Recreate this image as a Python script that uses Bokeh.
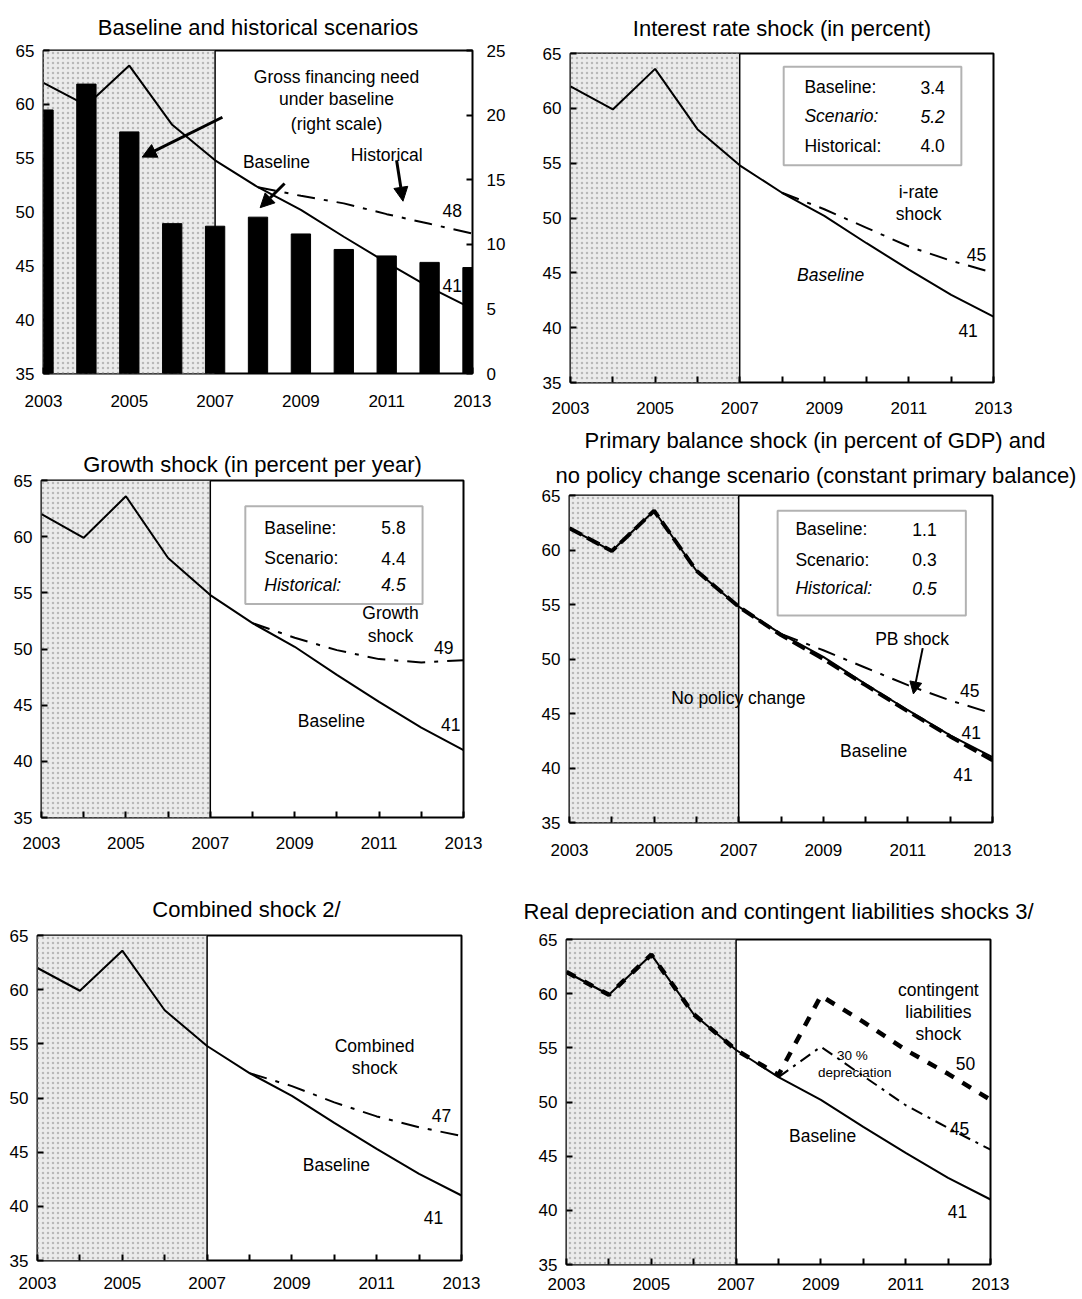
from bokeh.plotting import figure
from bokeh.models import (Range1d, LinearAxis, FixedTicker, BoxAnnotation, Label,
                          Arrow, NormalHead, Span, Title)
from bokeh.layouts import column, row
from bokeh.embed import file_html
from bokeh.resources import INLINE

# ---------------- data ----------------
years = [2003, 2004, 2005, 2006, 2007, 2008, 2009, 2010, 2011, 2012, 2013]
proj_years = [2008, 2009, 2010, 2011, 2012, 2013]
x_major_ticks = [2003, 2005, 2007, 2009, 2011, 2013]
x_minor_ticks = [2004, 2006, 2008, 2010, 2012]
y_ticks = [35, 40, 45, 50, 55, 60, 65]
right_ticks = [0, 5, 10, 15, 20, 25]

baseline = [62.0, 59.9, 63.6, 58.1, 54.8, 52.3, 50.2, 47.7, 45.3, 43.0, 41.0]
gross_financing = [20.4, 22.4, 18.7, 11.6, 11.4, 12.1, 10.8, 9.6, 9.1, 8.6, 8.2]
historical = [52.3, 51.5, 50.8, 49.8, 48.9, 48.0]
irate_shock = [52.3, 50.8, 49.1, 47.4, 46.1, 45.0]
growth_shock = [52.3, 51.0, 49.9, 49.1, 48.8, 49.0]
pb_shock = [52.3, 50.8, 49.2, 47.6, 46.2, 45.0]
no_policy_change = [62.0, 59.9, 63.6, 58.1, 54.8, 52.2, 50.0, 47.6, 45.2, 42.9, 40.7]
combined_shock = [52.3, 51.1, 49.6, 48.3, 47.3, 46.5]
contingent_shock = [62.0, 59.9, 63.6, 58.1, 54.8, 52.5, 59.8, 57.4, 54.8, 52.6, 50.2]
depreciation_shock = [52.3, 55.1, 52.4, 49.7, 47.6, 45.6]

table_labels = ["Baseline:", "Scenario:", "Historical:"]
irate_values = ["3.4", "5.2", "4.0"]
growth_values = ["5.8", "4.4", "4.5"]
pb_values = ["1.1", "0.3", "0.5"]

titles = ["Baseline and historical scenarios",
          "Interest rate shock (in percent)",
          "Growth shock (in percent per year)",
          "Primary balance shock (in percent of GDP) and",
          "no policy change scenario (constant primary balance)",
          "Combined shock  2/",
          "Real depreciation and contingent liabilities shocks 3/"]

FONT = "Liberation Sans"
TITLE_SIZE = "22px"
TICK_SIZE = "17px"
ANN_SIZE = "17.5px"
DASHDOT = "18 9 4 9"


def make_panel(w, h, bl, br, bt, bb, x_standoff=16):
    p = figure(width=w, height=h, x_range=Range1d(2003, 2013), y_range=Range1d(35, 65),
               output_backend="svg", toolbar_location=None, tools="",
               min_border_left=bl, min_border_right=br, min_border_top=bt,
               min_border_bottom=bb)
    if "frame_align" in p.properties():
        p.frame_align = False
    p.grid.visible = False
    p.outline_line_color = "black"
    p.outline_line_width = 2
    p.background_fill_color = "white"
    p.border_fill_color = "white"
    p.xaxis.ticker = FixedTicker(ticks=x_major_ticks, minor_ticks=x_minor_ticks)
    p.yaxis.ticker = FixedTicker(ticks=y_ticks)
    for ax in (p.xaxis, p.yaxis):
        ax.axis_line_color = None
        ax.major_tick_in = 6
        ax.major_tick_out = 0
        ax.minor_tick_in = 6
        ax.minor_tick_out = 0
        ax.major_tick_line_width = 2
        ax.minor_tick_line_width = 2
        ax.major_tick_line_color = "black"
        ax.minor_tick_line_color = "black"
        ax.major_label_text_font = FONT
        ax.major_label_text_font_size = TICK_SIZE
        ax.major_label_text_color = "black"
    p.xaxis.major_label_standoff = x_standoff
    p.yaxis.major_label_standoff = 9
    # historical (shaded) period
    p.add_layout(BoxAnnotation(left=2003, right=2007, fill_color="#ebebeb", fill_alpha=1.0,
                               hatch_pattern="dot", hatch_color="#b8b8b8", hatch_scale=5,
                               hatch_weight=1, line_color=None, level="underlay"))
    p.add_layout(Span(location=2007, dimension="height", line_color="black", line_width=1.5))
    return p


def title(p, text, standoff, align="center", offset=0):
    p.add_layout(Title(text=text, text_font=FONT, text_font_size=TITLE_SIZE,
                       text_font_style="normal", text_color="black", align=align,
                       offset=offset, standoff=standoff), "above")


def txt(p, x, y, t, size=ANN_SIZE, style="normal", align="center"):
    p.add_layout(Label(x=x, y=y, text=t, text_font=FONT, text_font_size=size,
                       text_font_style=style, text_align=align, text_baseline="middle",
                       text_color="black"))


def arrow(p, x0, y0, x1, y1, width=3, size=14):
    p.add_layout(Arrow(end=NormalHead(size=size, fill_color="black", line_color="black"),
                       x_start=x0, y_start=y0, x_end=x1, y_end=y1,
                       line_color="black", line_width=width))


def table(p, left, right, bottom, top, rows_y, label_x, value_x, values, styles):
    p.add_layout(BoxAnnotation(left=left, right=right, bottom=bottom, top=top,
                               fill_color="white", fill_alpha=1.0, line_color="black",
                               line_width=2))
    for lab, val, yy, st in zip(table_labels, values, rows_y, styles):
        txt(p, label_x, yy, lab, style=st, align="left")
        txt(p, value_x, yy, val, style=st, align="right")


def base_line(p):
    p.line(years, baseline, line_color="black", line_width=2)


# ---------------- panel 1 ----------------
p1 = make_panel(524, 425, 43, 52, 50, 52, x_standoff=21)
p1.extra_y_ranges = {"right": Range1d(0, 25)}
rax = LinearAxis(y_range_name="right", ticker=FixedTicker(ticks=right_ticks))
rax.axis_line_color = None
rax.major_tick_in = 6
rax.major_tick_out = 0
rax.major_tick_line_width = 2
rax.major_label_text_font = FONT
rax.major_label_text_font_size = TICK_SIZE
rax.major_label_text_color = "black"
rax.major_label_standoff = 14
p1.add_layout(rax, "right")
p1.vbar(x=years, top=gross_financing, bottom=0, width=0.45, y_range_name="right",
        fill_color="black", line_color="black")
base_line(p1)
p1.line(proj_years, historical, line_color="black", line_width=2, line_dash=DASHDOT)
title(p1, titles[0], 22)
txt(p1, 2009.83, 62.5, "Gross financing need")
txt(p1, 2009.83, 60.45, "under baseline")
txt(p1, 2009.83, 58.2, "(right scale)")
arrow(p1, 2007.17, 58.8, 2005.3, 55.1)
txt(p1, 2008.43, 54.6, "Baseline")
arrow(p1, 2008.62, 52.65, 2008.05, 50.4)
txt(p1, 2011.0, 55.3, "Historical")
arrow(p1, 2011.23, 54.8, 2011.38, 51.0)
txt(p1, 2012.53, 50.1, "48")
txt(p1, 2012.53, 43.2, "41")

# ---------------- panel 2 ----------------
p2 = make_panel(556, 425, 46, 87, 52, 43, x_standoff=19)
base_line(p2)
p2.line(proj_years, irate_shock, line_color="black", line_width=2, line_dash=DASHDOT)
title(p2, titles[1], 26)
table(p2, 2008.04, 2012.24, 54.8, 63.8, [61.9, 59.3, 56.6], 2008.53, 2011.85,
      irate_values, ["normal", "italic", "normal"])
txt(p2, 2011.23, 52.4, "i-rate")
txt(p2, 2011.23, 50.4, "shock")
txt(p2, 2012.6, 46.7, "45")
txt(p2, 2009.15, 44.8, "Baseline", style="italic")
txt(p2, 2012.4, 39.7, "41")

# ---------------- panel 3 ----------------
p3 = make_panel(520, 455, 41, 57, 55, 63, x_standoff=19)
base_line(p3)
p3.line(proj_years, growth_shock, line_color="black", line_width=2, line_dash=DASHDOT)
title(p3, titles[2], 8)
table(p3, 2007.83, 2012.03, 54.0, 62.7, [60.8, 58.1, 55.7], 2008.28, 2011.63,
      growth_values, ["normal", "normal", "italic"])
txt(p3, 2011.27, 53.2, "Growth")
txt(p3, 2011.27, 51.2, "shock")
txt(p3, 2012.53, 50.1, "49")
txt(p3, 2009.87, 43.6, "Baseline")
txt(p3, 2012.7, 43.3, "41")

# ---------------- panel 4 ----------------
p4 = make_panel(560, 455, 49, 88, 70, 58, x_standoff=21)
p4.line(years, no_policy_change, line_color="black", line_width=4, line_dash="14 6")
base_line(p4)
p4.line(proj_years, pb_shock, line_color="black", line_width=2, line_dash=DASHDOT)
title(p4, titles[4], 16, align="left", offset=-14)
title(p4, titles[3], 0, align="left", offset=15)
table(p4, 2007.92, 2012.37, 54.0, 63.6, [61.9, 59.1, 56.5], 2008.34, 2011.68,
      pb_values, ["normal", "normal", "italic"])
txt(p4, 2011.1, 51.8, "PB shock")
arrow(p4, 2011.35, 51.0, 2011.13, 46.8, width=2, size=12)
txt(p4, 2012.46, 47.1, "45")
txt(p4, 2006.99, 46.4, "No policy change")
txt(p4, 2012.5, 43.3, "41")
txt(p4, 2010.19, 41.6, "Baseline")
txt(p4, 2012.3, 39.4, "41")

# ---------------- panel 5 ----------------
p5 = make_panel(492, 417, 37, 31, 55, 37, x_standoff=16)
base_line(p5)
p5.line(proj_years, combined_shock, line_color="black", line_width=2, line_dash=DASHDOT)
title(p5, titles[5], 28)
txt(p5, 2010.95, 54.8, "Combined")
txt(p5, 2010.95, 52.8, "shock")
txt(p5, 2012.53, 48.4, "47")
txt(p5, 2010.05, 43.8, "Baseline")
txt(p5, 2012.34, 39.0, "41")

# ---------------- panel 6 ----------------
p6 = make_panel(588, 417, 74, 90, 58, 33, x_standoff=13)
p6.line(years, contingent_shock, line_color="black", line_width=4.5, line_dash="10 10")
base_line(p6)
p6.line(proj_years, depreciation_shock, line_color="black", line_width=2,
        line_dash="12 6 3 6")
title(p6, titles[6], 32)
txt(p6, 2011.77, 60.3, "contingent")
txt(p6, 2011.77, 58.3, "liabilities")
txt(p6, 2011.77, 56.3, "shock")
txt(p6, 2012.41, 53.6, "50")
txt(p6, 2009.74, 54.3, "30 %", size="13.5px")
txt(p6, 2009.8, 52.7, "depreciation", size="13.5px")
txt(p6, 2012.27, 47.6, "45")
txt(p6, 2009.04, 46.9, "Baseline")
txt(p6, 2012.22, 39.9, "41")

layout = column(row(p1, p2), row(p3, p4), row(p5, p6))
open("out.html", "w").write(file_html(layout, INLINE))
